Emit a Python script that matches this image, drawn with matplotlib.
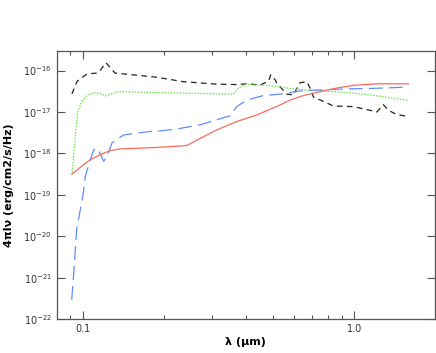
import matplotlib
matplotlib.use("Agg")
import matplotlib.pyplot as plt
from matplotlib.ticker import FixedLocator, FixedFormatter, LogLocator, NullFormatter, LogFormatterSciNotation

# wavelength (um) and 4*pi*I_nu (erg/cm2/s/Hz)
lam_black = [0.0913, 0.0953, 0.1037, 0.1129, 0.1158, 0.1218, 0.1282, 0.1315, 0.1419,
             0.1877, 0.2346, 0.3114, 0.3690, 0.4015, 0.4495, 0.4825, 0.4923, 0.5105,
             0.5180, 0.5637, 0.5963, 0.6310, 0.6681, 0.6871, 0.7066, 0.7690, 0.8368,
             0.9915, 1.142, 1.209, 1.279, 1.334, 1.432, 1.580]
flux_black = [2.75e-17, 5.5e-17, 8.3e-17, 8.7e-17, 1.0e-16, 1.55e-16, 1.05e-16, 8.7e-17, 8.3e-17,
              6.9e-17, 5.4e-17, 4.7e-17, 4.6e-17, 4.8e-17, 4.5e-17, 5.5e-17, 7.9e-17, 6.0e-17,
              5.0e-17, 2.7e-17, 2.6e-17, 5.1e-17, 5.4e-17, 3.8e-17, 2.3e-17, 1.8e-17, 1.4e-17,
              1.35e-17, 1.1e-17, 1.0e-17, 1.5e-17, 1.1e-17, 8.7e-18, 7.8e-18]

lam_green = [0.0913, 0.0939, 0.0958, 0.0994, 0.1037, 0.1098, 0.1158, 0.1218, 0.1282,
             0.1357, 0.1877, 0.3584, 0.3740, 0.4015, 0.4894, 0.6490, 0.8614, 1.142, 1.580]
flux_green = [3.0e-19, 2.5e-18, 1.0e-17, 1.8e-17, 2.5e-17, 2.95e-17, 2.8e-17, 2.45e-17, 2.8e-17,
              3.1e-17, 2.95e-17, 2.7e-17, 3.8e-17, 4.7e-17, 4.3e-17, 3.4e-17, 3.1e-17, 2.6e-17, 1.9e-17]

lam_blue = [0.0911, 0.0929, 0.0950, 0.1005, 0.1022, 0.1067, 0.1098, 0.1129, 0.1158,
            0.1195, 0.1229, 0.1282, 0.1357, 0.1416, 0.1585, 0.1769, 0.1926, 0.2219,
            0.2703, 0.3114, 0.3485, 0.3690, 0.4015, 0.4624, 0.5326, 0.5799, 0.6490,
            0.7474, 0.9110, 1.142, 1.580]
flux_blue = [2.95e-22, 1.6e-21, 1.45e-20, 1.1e-19, 2.8e-19, 7.1e-19, 1.23e-18, 1.35e-18, 1.0e-18,
             6.5e-19, 8.5e-19, 1.8e-18, 2.35e-18, 2.8e-18, 3.1e-18, 3.4e-18, 3.5e-18, 3.9e-18,
             4.9e-18, 6.5e-18, 8.1e-18, 1.35e-17, 1.95e-17, 2.5e-17, 2.7e-17, 2.95e-17, 3.3e-17,
             3.4e-17, 3.6e-17, 3.7e-17, 4.0e-17]

lam_red = [0.0913, 0.1008, 0.1067, 0.1158, 0.1260, 0.1372, 0.1877, 0.2415, 0.2628,
           0.3114, 0.3690, 0.4370, 0.5326, 0.5799, 0.6490, 0.7474, 0.8614, 0.9915, 1.209, 1.580]
flux_red = [3.2e-19, 5.4e-19, 7.1e-19, 9.3e-19, 1.17e-18, 1.29e-18, 1.4e-18, 1.55e-18, 2.1e-18,
            3.7e-18, 5.9e-18, 8.5e-18, 1.48e-17, 1.95e-17, 2.5e-17, 3.1e-17, 3.8e-17, 4.4e-17, 4.8e-17, 4.8e-17]

y_ticks = [1e-22, 1e-21, 1e-20, 1e-19, 1e-18, 1e-17, 1e-16]
x_ticks = [0.1, 1.0]
x_ticklabels = ["0.1", "1.0"]

fig = plt.figure(figsize=(4.36, 3.53), dpi=100)
ax = fig.add_axes([0.130, 0.0955, 0.8677, 0.7609])

ax.plot(lam_black, flux_black, color="#222222", lw=0.9, dashes=(4.5, 3.5))
ax.plot(lam_green, flux_green, color="#66e044", lw=0.9, dashes=(1.2, 1.2))
ax.plot(lam_blue, flux_blue, color="#5f8dff", lw=0.9, dashes=(11, 5))
ax.plot(lam_red, flux_red, color="#ff6a5a", lw=0.9)

ax.set_xscale("log")
ax.set_yscale("log")
ax.set_xlim(0.0802, 1.98)
ax.set_ylim(1e-22, 10 ** -15.52)

ax.xaxis.set_major_locator(FixedLocator(x_ticks))
ax.xaxis.set_major_formatter(FixedFormatter(x_ticklabels))
ax.xaxis.set_minor_locator(LogLocator(base=10, subs=range(2, 10)))
ax.xaxis.set_minor_formatter(NullFormatter())
ax.yaxis.set_major_locator(FixedLocator(y_ticks))
ax.yaxis.set_major_formatter(LogFormatterSciNotation())
ax.yaxis.set_minor_locator(FixedLocator([]))

ax.tick_params(which="both", direction="in", top=True, right=True,
               colors="#555555", labelcolor="#333333", labelsize=7, width=0.8)
ax.tick_params(which="major", length=6)
ax.tick_params(which="minor", length=3)
for s in ax.spines.values():
    s.set_color("#555555")
    s.set_linewidth(0.9)

ax.set_xlabel("λ (μm)", fontsize=8, fontweight="bold", labelpad=2)
ax.set_ylabel("4πIν (erg/cm2/s/Hz)", fontsize=8, fontweight="bold", labelpad=7)

fig.savefig("out.png", dpi=100)
